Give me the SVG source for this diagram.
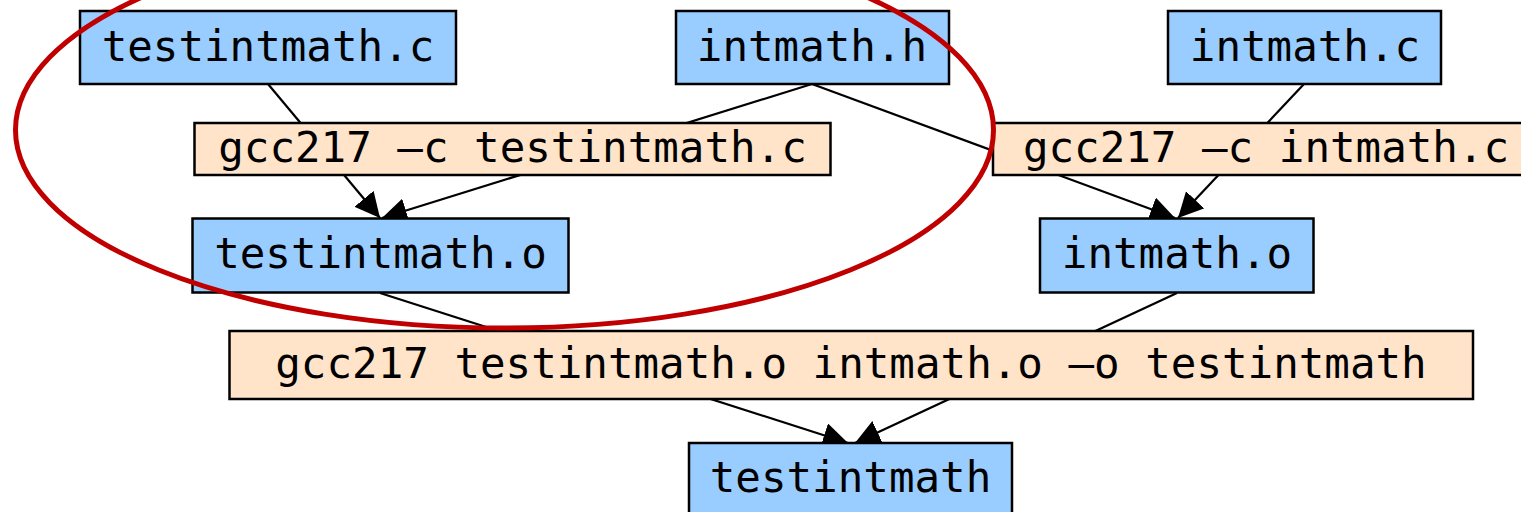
<svg xmlns="http://www.w3.org/2000/svg" width="1521" height="512" viewBox="0 0 1521 512">
<style>
.file{fill:#99ccff;stroke:#000;stroke-width:2.5}
.cmd{fill:#ffe4c9;stroke:#000;stroke-width:2.5}
.t{font-family:"DejaVu Sans Mono",monospace;font-size:42.5px;fill:#000;text-anchor:middle}
.e{stroke:#000;stroke-width:2.2;fill:none;marker-end:url(#ah)}
.l{stroke:#000;stroke-width:2.2;fill:none}
</style>
<defs>
<marker id="ah" markerUnits="userSpaceOnUse" markerWidth="26" markerHeight="26" refX="25" refY="12.5" orient="auto" viewBox="0 0 26 26">
<path d="M0,0 L25,12.5 L0,25 z" fill="#000"/>
</marker>
</defs>
<rect width="1521" height="512" fill="#fff"/>
<g id="connectors">
<line class="e" x1="268" y1="84" x2="380" y2="218"/>
<line class="e" x1="812" y1="84" x2="382" y2="218"/>
<line class="e" x1="812" y1="84" x2="1175" y2="218"/>
<line class="e" x1="1304" y1="84" x2="1178" y2="218"/>
<line class="e" x1="380" y1="293" x2="848" y2="443"/>
<line class="e" x1="1177" y1="293" x2="855" y2="443"/>
</g>
<g id="n_testintmath_c"><rect class="file" x="80" y="11" width="376" height="73"/><text class="t" x="268" y="61">testintmath.c</text></g>
<g id="n_intmath_h"><rect class="file" x="676" y="11" width="273" height="73"/><text class="t" x="812" y="61">intmath.h</text></g>
<g id="n_intmath_c"><rect class="file" x="1168" y="11" width="273" height="73"/><text class="t" x="1305" y="61">intmath.c</text></g>
<g id="n_cmd1"><rect class="cmd" x="194.5" y="123" width="636" height="52"/><text class="t" x="512.5" y="162">gcc217 —c testintmath.c</text></g>
<g id="n_cmd2"><rect class="cmd" x="993" y="123" width="546" height="52"/><text class="t" x="1266" y="162">gcc217 —c intmath.c</text></g>
<g id="n_testintmath_o"><rect class="file" x="192.5" y="218.5" width="376" height="74"/><text class="t" x="380.5" y="268">testintmath.o</text></g>
<g id="n_intmath_o"><rect class="file" x="1040" y="218.5" width="273.5" height="74"/><text class="t" x="1177" y="268">intmath.o</text></g>
<g id="n_cmd3"><rect class="cmd" x="229.5" y="331" width="1243.5" height="68"/><text class="t" x="851" y="378">gcc217 testintmath.o intmath.o —o testintmath</text></g>
<g id="n_testintmath"><rect class="file" x="689" y="443" width="323" height="74"/><text class="t" x="850.5" y="492">testintmath</text></g>
<ellipse cx="504.5" cy="130" rx="489" ry="198" fill="none" stroke="#c00000" stroke-width="5"/>
</svg>
